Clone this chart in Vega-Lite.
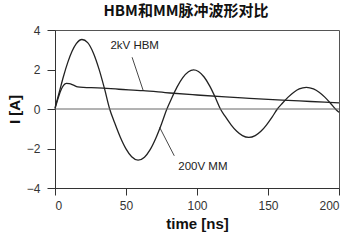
{
  "$schema": "https://vega.github.io/schema/vega-lite/v6.json",
  "width": 284,
  "height": 158,
  "autosize": {"type": "none"},
  "padding": {"left": 55, "top": 30, "right": 16, "bottom": 55},
  "background": "white",
  "title": {"text": "HBM和MM脉冲波形对比", "font": "Noto Sans CJK SC", "fontSize": 15, "fontWeight": "bold", "color": "#111", "offset": 5, "dx": -11, "anchor": "middle"},
  "config": {
    "view": {"stroke": "#555", "strokeWidth": 1},
    "axis": {"grid": false, "domainColor": "#333", "tickColor": "#333", "labelFont": "Liberation Sans", "labelFontSize": 12, "labelColor": "#333", "labelOverlap": false, "titleFont": "Liberation Sans", "titleFontWeight": "bold", "titleColor": "#111", "titleFontSize": 15},
    "axisX": {"tickCount": 4, "tickSize": 7, "labelPadding": 5, "titlePadding": 5},
    "axisY": {"tickCount": 4, "tickSize": 8, "labelPadding": 7, "titlePadding": 4}
  },
  "datasets": {
    "curves": [
      {"series": "MM", "t": 0, "i": 0.05},
      {"series": "MM", "t": 3, "i": 0.85},
      {"series": "MM", "t": 6, "i": 1.66},
      {"series": "MM", "t": 9, "i": 2.36},
      {"series": "MM", "t": 12, "i": 2.92},
      {"series": "MM", "t": 15, "i": 3.31},
      {"series": "MM", "t": 19, "i": 3.52},
      {"series": "MM", "t": 23, "i": 3.36},
      {"series": "MM", "t": 27, "i": 2.84},
      {"series": "MM", "t": 31, "i": 2.02},
      {"series": "MM", "t": 35, "i": 0.99},
      {"series": "MM", "t": 38.5, "i": 0},
      {"series": "MM", "t": 42, "i": -0.7},
      {"series": "MM", "t": 46, "i": -1.43},
      {"series": "MM", "t": 50, "i": -2.02},
      {"series": "MM", "t": 54, "i": -2.42},
      {"series": "MM", "t": 58.5, "i": -2.59},
      {"series": "MM", "t": 63, "i": -2.44},
      {"series": "MM", "t": 67, "i": -2.06},
      {"series": "MM", "t": 71, "i": -1.48},
      {"series": "MM", "t": 75, "i": -0.76},
      {"series": "MM", "t": 78.8, "i": 0},
      {"series": "MM", "t": 82, "i": 0.52},
      {"series": "MM", "t": 86, "i": 1.12},
      {"series": "MM", "t": 90, "i": 1.59},
      {"series": "MM", "t": 94, "i": 1.89},
      {"series": "MM", "t": 97.6, "i": 1.98},
      {"series": "MM", "t": 101, "i": 1.9},
      {"series": "MM", "t": 105, "i": 1.62},
      {"series": "MM", "t": 109, "i": 1.16},
      {"series": "MM", "t": 113, "i": 0.57},
      {"series": "MM", "t": 116.5, "i": 0},
      {"series": "MM", "t": 120, "i": -0.39},
      {"series": "MM", "t": 124, "i": -0.8},
      {"series": "MM", "t": 128, "i": -1.13},
      {"series": "MM", "t": 132, "i": -1.35},
      {"series": "MM", "t": 136.5, "i": -1.44},
      {"series": "MM", "t": 141, "i": -1.35},
      {"series": "MM", "t": 145, "i": -1.13},
      {"series": "MM", "t": 149, "i": -0.8},
      {"series": "MM", "t": 153, "i": -0.4},
      {"series": "MM", "t": 156.6, "i": 0},
      {"series": "MM", "t": 160, "i": 0.28},
      {"series": "MM", "t": 164, "i": 0.59},
      {"series": "MM", "t": 168, "i": 0.84},
      {"series": "MM", "t": 172, "i": 1.02},
      {"series": "MM", "t": 177, "i": 1.1},
      {"series": "MM", "t": 182, "i": 1.02},
      {"series": "MM", "t": 186, "i": 0.85},
      {"series": "MM", "t": 190, "i": 0.6},
      {"series": "MM", "t": 194, "i": 0.29},
      {"series": "MM", "t": 197.5, "i": 0},
      {"series": "MM", "t": 200, "i": -0.17},
      {"series": "HBM", "t": 0, "i": 0.0},
      {"series": "HBM", "t": 2, "i": 0.5},
      {"series": "HBM", "t": 4, "i": 0.93},
      {"series": "HBM", "t": 6, "i": 1.2},
      {"series": "HBM", "t": 8, "i": 1.3},
      {"series": "HBM", "t": 10, "i": 1.29},
      {"series": "HBM", "t": 13, "i": 1.21},
      {"series": "HBM", "t": 16, "i": 1.12},
      {"series": "HBM", "t": 20, "i": 1.09},
      {"series": "HBM", "t": 30, "i": 1.07},
      {"series": "HBM", "t": 45, "i": 1.0},
      {"series": "HBM", "t": 62, "i": 0.93},
      {"series": "HBM", "t": 81, "i": 0.81},
      {"series": "HBM", "t": 100, "i": 0.71},
      {"series": "HBM", "t": 120, "i": 0.61},
      {"series": "HBM", "t": 137, "i": 0.54},
      {"series": "HBM", "t": 160, "i": 0.45},
      {"series": "HBM", "t": 180, "i": 0.38},
      {"series": "HBM", "t": 200, "i": 0.31}
    ],
    "zero": [{"v": 0}],
    "leaders": [
      {"t1": 54.3, "i1": 2.62, "t2": 62, "i2": 0.96},
      {"t1": 73.7, "i1": -0.93, "t2": 84, "i2": -2.37}
    ],
    "labels": [
      {"t": 39, "i": 3.2, "label": "2kV HBM"},
      {"t": 86.8, "i": -2.96, "label": "200V MM"}
    ]
  },
  "layer": [
    {
      "data": {"name": "curves"},
      "mark": {"type": "line", "interpolate": "monotone", "color": "#222", "strokeWidth": 1.3},
      "encoding": {
        "x": {"field": "t", "type": "quantitative", "scale": {"domain": [0, 200], "nice": false}, "title": "time [ns]"},
        "y": {"field": "i", "type": "quantitative", "scale": {"domain": [-4, 4], "nice": false}, "title": "I [A]"},
        "detail": {"field": "series"}
      }
    },
    {
      "data": {"name": "zero"},
      "mark": {"type": "rule", "color": "#666", "strokeWidth": 1},
      "encoding": {"y": {"field": "v", "type": "quantitative", "title": "I [A]"}}
    },
    {
      "data": {"name": "leaders"},
      "mark": {"type": "rule", "color": "#333", "strokeWidth": 0.9},
      "encoding": {
        "x": {"field": "t1", "type": "quantitative", "title": "time [ns]"},
        "y": {"field": "i1", "type": "quantitative", "title": "I [A]"},
        "x2": {"field": "t2"},
        "y2": {"field": "i2"}
      }
    },
    {
      "data": {"name": "labels"},
      "mark": {"type": "text", "align": "left", "baseline": "middle", "font": "Liberation Sans", "fontSize": 11.5, "color": "#222"},
      "encoding": {
        "x": {"field": "t", "type": "quantitative", "title": "time [ns]"},
        "y": {"field": "i", "type": "quantitative", "title": "I [A]"},
        "text": {"field": "label"}
      }
    }
  ]
}
